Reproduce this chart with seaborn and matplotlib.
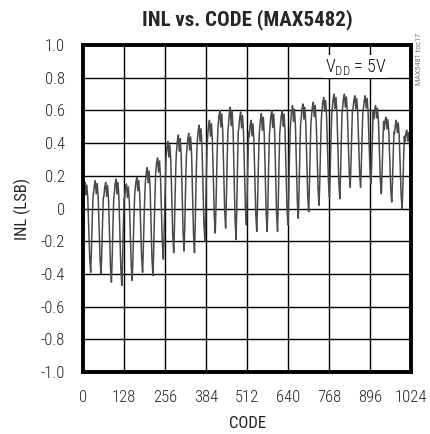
import matplotlib
matplotlib.use("Agg")
import matplotlib.pyplot as plt
import seaborn as sns
import pandas as pd

# INL per 32-code segment (LSB)
peaks = [0.16, 0.17, 0.16, 0.18, 0.15, 0.19, 0.25, 0.31,
         0.41, 0.45, 0.46, 0.51, 0.54, 0.60, 0.62, 0.59,
         0.54, 0.58, 0.60, 0.60, 0.63, 0.64, 0.65, 0.68,
         0.70, 0.70, 0.69, 0.69, 0.63, 0.56, 0.54, 0.48]
troughs = [-0.39, -0.40, -0.45, -0.47, -0.44, -0.39, -0.41, -0.31,
           -0.27, -0.26, -0.27, -0.20, -0.15, -0.12, -0.19, -0.10,
           -0.14, -0.14, -0.14, -0.10, -0.06, -0.02, 0.02, 0.07,
           0.06, 0.13, 0.13, 0.15, 0.09, 0.04, 0.00, 0.00]
# shape of one segment: code offset and position between trough (0) and peak (1)
seg_offset = [0, 3, 6, 9, 12, 15, 18, 21, 24, 26, 29, 31]
seg_level = [0.85, 0.95, 1.0, 0.86, 0.97, 0.82, 0.5, 0.15, 0.0, 0.2, 0.6, 0.82]
seg_len = 32.4

xticks = [0, 128, 256, 384, 512, 640, 768, 896, 1024]
yticks = [-1.0, -0.8, -0.6, -0.4, -0.2, 0, 0.2, 0.4, 0.6, 0.8, 1.0]
ylabels = ["-1.0", "-0.8", "-0.6", "-0.4", "-0.2", "0", "0.2", "0.4", "0.6", "0.8", "1.0"]

rows = []
for k in range(len(peaks)):
    for off, lev in zip(seg_offset, seg_level):
        code = k * seg_len + off
        if code <= 1023:
            rows.append((code, troughs[k] + (peaks[k] - troughs[k]) * lev))
df = pd.DataFrame(rows, columns=["code", "inl"])

sns.set_style("white")
plt.rcParams['font.family'] = ['Roboto Condensed', 'DejaVu Sans']
plt.rcParams['font.weight'] = 'light'
plt.rcParams['mathtext.fontset'] = 'custom'
plt.rcParams['mathtext.rm'] = 'Roboto Condensed:light'

fig = plt.figure(figsize=(4.30, 4.34), dpi=100)
ax = fig.add_axes([0.193, 0.143, 0.763, 0.753])

sns.lineplot(data=df, x="code", y="inl", ax=ax, color="#4a4a4a", linewidth=1.1)

ax.set_xlim(0, 1024)
ax.set_ylim(-1.0, 1.0)
ax.set_xticks(xticks)
ax.set_yticks(yticks)
ax.set_yticklabels(ylabels)
ax.grid(True, color="black", linewidth=1.0)
ax.set_axisbelow(True)
ax.tick_params(length=0, labelsize=12, pad=13, colors="#222222")
for s in ax.spines.values():
    s.set_linewidth(2.8)
    s.set_color("black")

ax.set_xlabel("CODE", fontsize=12, labelpad=8, color="#222222")
ax.set_ylabel("INL (LSB)", fontsize=12, labelpad=7, color="#222222")
ax.set_title("INL vs. CODE (MAX5482)", fontsize=15, fontweight="bold", pad=14)

ax.text(0.925, 0.965, r"V$_{\mathrm{DD}}$ = 5V", transform=ax.transAxes,
        ha="right", va="top", fontsize=13, color="#111111",
        bbox=dict(facecolor="white", edgecolor="none", pad=1.0))
fig.text(0.975, 0.865, "MAX5481 toc17", rotation=90, ha="center", va="center",
         fontsize=6, color="#333333")

fig.savefig("out.png", dpi=100)
